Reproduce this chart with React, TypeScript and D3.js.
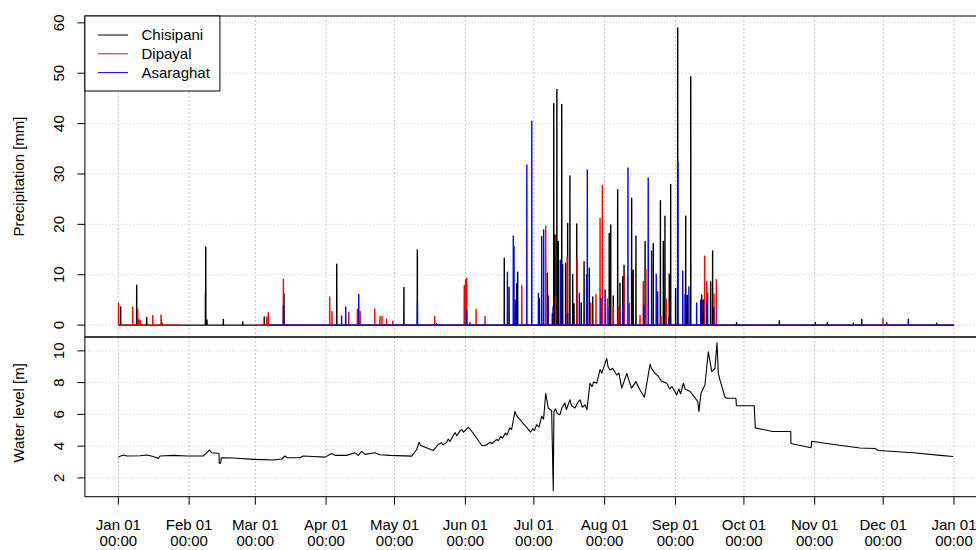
// App.tsx
import React, { useEffect, useRef } from "react";
import * as d3 from "d3";

// hourly precipitation peaks [date "MM-DD HH", mm] (zero in between)
const chisipani: [string, number][] = [
  ["01-02 01", 3.6], ["01-09 01", 7.9], ["01-13 10", 1.5], ["01-20 02", 0.5],
  ["02-08 04", 6.6], ["02-08 07", 15.5], ["02-08 20", 1.0], ["02-16 00", 1.1],
  ["02-24 12", 0.7], ["03-04 22", 1.6], ["03-13 14", 6.2], ["04-05 16", 12.1],
  ["05-05 02", 7.5], ["05-10 23", 14.9], ["06-18 01", 13.3], ["06-20 03", 7.5],
  ["06-23 12", 8.2], ["06-23 22", 10.5], ["07-03 10", 5.3], ["07-06 22", 10.3],
  ["07-09 02", 2.3], ["07-09 17", 44.0], ["07-10 07", 17.9], ["07-11 02", 46.8],
  ["07-11 17", 16.6], ["07-13 05", 43.8], ["07-13 15", 12.0], ["07-14 22", 12.3],
  ["07-15 19", 20.2], ["07-16 19", 29.6], ["07-18 00", 10.0], ["07-18 14", 4.2],
  ["07-19 19", 20.1], ["07-21 18", 4.4], ["07-23 00", 12.6], ["07-25 07", 11.3],
  ["07-26 19", 5.6], ["08-03 00", 18.2], ["08-03 16", 19.9], ["08-04 19", 5.8],
  ["08-06 17", 26.9], ["08-07 17", 8.3], ["08-08 22", 9.6], ["08-09 12", 11.9],
  ["08-12 20", 25.2], ["08-13 12", 10.9], ["08-14 17", 17.7], ["08-18 17", 16.6],
  ["08-22 07", 16.2], ["08-24 05", 6.6], ["08-25 10", 24.7], ["08-26 17", 16.6],
  ["08-27 10", 21.6], ["08-29 07", 10.1], ["08-29 22", 27.9], ["09-01 02", 7.3],
  ["09-02 00", 59.0], ["09-05 12", 21.6], ["09-06 05", 5.9], ["09-07 17", 49.3],
  ["09-12 12", 6.0], ["09-13 05", 5.0], ["09-15 02", 6.4], ["09-16 10", 8.6],
  ["09-17 07", 14.7], ["09-27 19", 0.5], ["10-16 12", 0.9], ["11-01 07", 0.5],
  ["11-06 12", 0.5], ["11-17 22", 0.4], ["11-21 14", 1.1], ["12-02 12", 0.5],
  ["12-24 10", 0.4],
];

const dipayal: [string, number][] = [
  ["01-01 02", 4.4], ["01-07 07", 3.6], ["01-09 12", 3.2], ["01-10 02", 1.0],
  ["01-10 14", 0.9], ["01-16 02", 1.9], ["01-19 17", 2.0], ["03-06 00", 1.6],
  ["03-06 17", 2.5], ["03-13 07", 9.1], ["04-02 14", 5.6], ["04-03 14", 2.7],
  ["04-10 22", 2.5], ["04-14 17", 3.1], ["04-15 22", 2.7], ["04-22 07", 3.2],
  ["04-24 14", 1.7], ["04-25 12", 1.7], ["04-27 12", 1.2], ["04-30 05", 0.8],
  ["05-18 14", 1.7], ["05-31 12", 7.8], ["06-01 02", 9.0], ["06-01 14", 9.3],
  ["06-05 17", 3.1], ["06-09 14", 1.7], ["06-25 17", 7.8], ["07-06 05", 19.7],
  ["07-10 12", 5.6], ["07-15 14", 13.5], ["07-19 22", 13.4], ["07-25 22", 4.4],
  ["07-28 05", 6.1], ["07-30 00", 21.2], ["07-31 00", 27.7], ["08-02 05", 5.2],
  ["08-04 19", 3.6], ["08-07 00", 3.6], ["08-09 12", 10.0], ["08-11 19", 4.3],
  ["08-16 12", 1.9], ["08-17 22", 8.6], ["08-19 02", 11.0], ["08-25 17", 1.7],
  ["08-28 00", 5.1], ["09-13 19", 13.7], ["09-14 17", 8.6], ["09-17 22", 6.2],
  ["09-18 22", 9.0], ["11-30 22", 1.3],
];

const asaraghat: [string, number][] = [
  ["03-13 07", 3.8], ["04-07 19", 1.8], ["04-09 14", 3.6], ["04-15 07", 6.1],
  ["05-11 00", 4.3], ["05-19 10", 0.3], ["06-01 14", 3.1], ["06-03 00", 0.5],
  ["06-19 10", 10.5], ["06-22 00", 17.7], ["06-22 07", 15.6], ["06-23 00", 5.0],
  ["06-27 22", 31.8], ["06-30 02", 40.5], ["07-03 00", 6.3], ["07-04 10", 17.6],
  ["07-05 07", 18.9], ["07-07 07", 5.8], ["07-09 10", 3.6], ["07-12 14", 12.9],
  ["07-15 19", 2.3], ["07-20 22", 6.3], ["07-24 02", 10.0], ["07-24 10", 30.8],
  ["07-30 10", 5.3], ["08-01 05", 7.0], ["08-03 00", 3.6], ["08-08 22", 4.0],
  ["08-11 05", 31.2], ["08-18 05", 4.0], ["08-20 02", 29.2], ["08-21 14", 14.7],
  ["08-23 14", 10.1], ["08-29 05", 1.5], ["09-02 02", 32.2], ["09-04 05", 10.7],
  ["09-05 05", 6.1], ["09-06 22", 7.6], ["09-10 07", 4.4], ["09-12 02", 5.0],
  ["09-14 17", 4.8], ["09-17 19", 3.5], ["12-12 00", 1.1],
];

// periods with records for each station
const chisipaniSpans: [string, string][] = [["01-01 00", "12-31 23"]];
const dipayalSpans: [string, string][] = [["01-01 00", "01-28 00"], ["03-01 00", "12-31 23"]];
const asaraghatSpans: [string, string][] = [["03-07 00", "12-31 23"]];

const stations = ["Chisipani", "Dipayal", "Asaraghat"];

// water level [date, m]
const waterLevel: [string, number][] = [
  ["01-01 00", 3.31], ["01-03 05", 3.44], ["01-04 17", 3.38], ["01-10 12", 3.40],
  ["01-13 10", 3.44], ["01-16 07", 3.35], ["01-18 12", 3.23], ["01-19 07", 3.38],
  ["01-25 02", 3.42], ["01-31 00", 3.38], ["02-07 05", 3.38], ["02-08 10", 3.54],
  ["02-09 22", 3.75], ["02-10 22", 3.58], ["02-14 02", 3.54], ["02-14 05", 2.92],
  ["02-14 19", 2.92], ["02-15 02", 3.27], ["02-20 10", 3.25], ["02-29 02", 3.17],
  ["03-08 22", 3.13], ["03-12 14", 3.19], ["03-14 00", 3.38], ["03-15 00", 3.27],
  ["03-20 14", 3.27], ["03-22 00", 3.38], ["03-26 10", 3.35], ["03-31 12", 3.31],
  ["04-03 12", 3.54], ["04-04 22", 3.42], ["04-10 00", 3.42], ["04-13 17", 3.58],
  ["04-15 02", 3.42], ["04-16 14", 3.67], ["04-18 00", 3.48], ["04-22 10", 3.58],
  ["04-24 14", 3.46], ["04-29 00", 3.42], ["05-08 12", 3.37], ["05-10 17", 3.79],
  ["05-11 17", 4.25], ["05-12 10", 4.04], ["05-18 00", 3.73], ["05-20 02", 4.10],
  ["05-21 12", 4.22], ["05-22 06", 4.08], ["05-23 19", 4.25], ["05-24 12", 4.45],
  ["05-25 06", 4.30], ["05-26 17", 4.67], ["05-27 12", 4.85], ["05-28 06", 4.65],
  ["05-29 17", 4.98], ["05-30 12", 5.05], ["05-31 06", 4.88], ["06-02 07", 5.19],
  ["06-03 19", 4.94], ["06-08 05", 4.04], ["06-09 14", 4.04], ["06-12 00", 4.25],
  ["06-12 12", 4.15], ["06-14 17", 4.42], ["06-15 12", 4.35], ["06-16 12", 4.62],
  ["06-17 06", 4.50], ["06-18 12", 4.82], ["06-19 06", 4.70], ["06-20 12", 5.15],
  ["06-21 06", 5.05], ["06-22 17", 6.19], ["06-23 12", 5.90], ["06-24 22", 5.67],
  ["06-29 14", 4.88], ["06-30 12", 5.10], ["07-01 06", 4.98], ["07-02 05", 5.35],
  ["07-03 06", 5.20], ["07-04 10", 5.88], ["07-05 06", 5.70], ["07-06 05", 7.33],
  ["07-07 07", 6.40], ["07-08 19", 6.23], ["07-09 12", 1.19], ["07-09 19", 6.19],
  ["07-10 12", 6.35], ["07-11 06", 6.05], ["07-12 10", 5.98], ["07-13 06", 6.40],
  ["07-14 14", 6.71], ["07-15 06", 6.30], ["07-16 19", 6.92], ["07-17 12", 6.55],
  ["07-19 00", 6.40], ["07-20 06", 6.75], ["07-21 05", 6.92], ["07-22 06", 6.45],
  ["07-23 10", 6.60], ["07-24 06", 6.30], ["07-25 14", 7.96], ["07-26 12", 7.75],
  ["07-27 06", 8.05], ["07-28 12", 7.96], ["07-30 00", 8.83], ["07-30 18", 8.60],
  ["07-31 19", 9.04], ["08-01 22", 9.52], ["08-02 12", 9.00], ["08-03 07", 8.79],
  ["08-04 12", 8.90], ["08-06 07", 8.48], ["08-07 06", 8.60], ["08-08 12", 7.65],
  ["08-10 17", 8.58], ["08-11 12", 8.20], ["08-12 19", 7.65], ["08-14 17", 8.06],
  ["08-16 06", 7.60], ["08-18 10", 7.08], ["08-20 22", 9.17], ["08-21 12", 8.90],
  ["08-23 02", 8.58], ["08-24 12", 8.40], ["08-25 18", 8.10], ["08-28 05", 7.96],
  ["08-29 12", 7.60], ["08-30 12", 7.75], ["09-01 14", 7.23], ["09-02 12", 7.60],
  ["09-03 06", 7.30], ["09-04 12", 7.96], ["09-05 06", 7.60], ["09-07 10", 7.44],
  ["09-09 06", 7.10], ["09-10 19", 6.81], ["09-11 07", 6.19], ["09-12 05", 7.33],
  ["09-13 22", 7.85], ["09-15 10", 9.94], ["09-16 22", 8.69], ["09-18 07", 8.90],
  ["09-19 05", 10.50], ["09-19 19", 8.58], ["09-20 12", 8.17], ["09-22 17", 7.08],
  ["09-23 10", 7.02], ["09-27 12", 7.02], ["09-27 17", 6.54], ["10-05 12", 6.54],
  ["10-06 00", 5.15], ["10-13 14", 4.92], ["10-21 12", 4.92], ["10-21 14", 4.17],
  ["10-30 10", 3.90], ["10-30 17", 4.31], ["11-06 07", 4.17], ["11-20 19", 3.88],
  ["11-27 10", 3.85], ["11-28 22", 3.73], ["12-14 05", 3.58], ["12-25 22", 3.42],
  ["12-31 17", 3.35],
];

const precipTicks = [0, 10, 20, 30, 40, 50, 60];
const levelTicks = [2, 4, 6, 8, 10];

const YEAR = "2016";
const FONT = "'Liberation Sans', Arial, Helvetica, sans-serif";
const parse = d3.utcParse("%Y-%m-%d %H");
const toDate = (s: string) => parse(`${YEAR}-${s}`) as Date;

const App: React.FC = () => {
  const ref = useRef<SVGSVGElement | null>(null);

  useEffect(() => {
    const width = 976;
    const height = 550;
    const left = 84.9;
    const right = 987.4; // plot runs past the window edge
    const top1 = 16;
    const mid = 337;
    const bottom2 = 496.7;
    const fs = 15;

    const svg = d3.select(ref.current);
    svg.selectAll("*").remove();
    svg.attr("width", width).attr("height", height);

    const start = toDate("01-01 00");
    const end = d3.utcYear.offset(start, 1);
    const pad = (+end - +start) * 0.04;
    const x = d3
      .scaleUtc()
      .domain([new Date(+start - pad), new Date(+end + pad)])
      .range([left, right]);

    const pMax = d3.max([...chisipani, ...dipayal, ...asaraghat], (d) => d[1]) as number;
    const yP = d3
      .scaleLinear()
      .domain([-0.04 * pMax, pMax * 1.04])
      .range([mid, top1]);

    const [wMin, wMax] = d3.extent(waterLevel, (d) => d[1]) as [number, number];
    const wPad = (wMax - wMin) * 0.04;
    const yW = d3
      .scaleLinear()
      .domain([wMin - wPad, wMax + wPad])
      .range([bottom2, mid]);

    const months = d3.utcMonth.range(start, d3.utcDay.offset(end, 1));

    // grid
    const grid = svg.append("g");
    [
      [top1, mid],
      [mid, bottom2],
    ].forEach(([a, b]) => {
      grid
        .selectAll(null)
        .data(months)
        .enter()
        .append("line")
        .attr("x1", (d) => x(d))
        .attr("x2", (d) => x(d))
        .attr("y1", a)
        .attr("y2", b)
        .attr("stroke", "#c4c4c4")
        .attr("stroke-dasharray", "2 2");
    });
    grid
      .selectAll(null)
      .data(precipTicks)
      .enter()
      .append("line")
      .attr("x1", left)
      .attr("x2", right)
      .attr("y1", (d) => yP(d))
      .attr("y2", (d) => yP(d))
      .attr("stroke", "#cfcfcf")
      .attr("stroke-dasharray", "1 2");
    grid
      .selectAll(null)
      .data(levelTicks)
      .enter()
      .append("line")
      .attr("x1", left)
      .attr("x2", right)
      .attr("y1", (d) => yW(d))
      .attr("y2", (d) => yW(d))
      .attr("stroke", "#cfcfcf")
      .attr("stroke-dasharray", "1 2");

    // precipitation series
    const hour = 3600 * 1000;
    const buildPoints = (spans: [string, string][], spikes: [string, number][]) => {
      const pts: ([Date, number] | null)[] = [];
      spans.forEach(([a, b]) => {
        const t0 = toDate(a);
        const t1 = toDate(b);
        pts.push([t0, 0]);
        spikes
          .map(([s, v]) => [toDate(s), v] as [Date, number])
          .filter(([t]) => t >= t0 && t <= t1)
          .sort((p, q) => +p[0] - +q[0])
          .forEach(([t, v]) => {
            pts.push([new Date(+t - hour), 0], [t, v], [new Date(+t + hour), 0]);
          });
        pts.push([t1, 0]);
        pts.push(null);
      });
      return pts;
    };

    const precipLine = d3
      .line<[Date, number] | null>()
      .defined((d) => d !== null)
      .x((d) => x((d as [Date, number])[0]))
      .y((d) => yP((d as [Date, number])[1]));

    const series = [
      { data: chisipani, spans: chisipaniSpans, color: "#000000" },
      { data: dipayal, spans: dipayalSpans, color: "#ff0000" },
      { data: asaraghat, spans: asaraghatSpans, color: "#0000ff" },
    ];

    series.forEach((s) => {
      svg
        .append("path")
        .attr("d", precipLine(buildPoints(s.spans, s.data)) as string)
        .attr("fill", "none")
        .attr("stroke", s.color)
        .attr("stroke-width", 1.4)
        .attr("stroke-linejoin", "round");
    });

    // water level
    const levelLine = d3
      .line<[string, number]>()
      .x((d) => x(toDate(d[0])))
      .y((d) => yW(d[1]));
    svg
      .append("path")
      .attr("d", levelLine(waterLevel) as string)
      .attr("fill", "none")
      .attr("stroke", "#000")
      .attr("stroke-width", 1.1)
      .attr("stroke-linejoin", "round");

    // frames
    svg
      .append("rect")
      .attr("x", left)
      .attr("y", top1)
      .attr("width", right - left)
      .attr("height", mid - top1)
      .attr("fill", "none")
      .attr("stroke", "#000");
    svg
      .append("rect")
      .attr("x", left)
      .attr("y", mid)
      .attr("width", right - left)
      .attr("height", bottom2 - mid)
      .attr("fill", "none")
      .attr("stroke", "#000");

    // y axes
    const yAxis = (ticks: number[], scale: d3.ScaleLinear<number, number>) => {
      const g = svg.append("g");
      g.selectAll(null)
        .data(ticks)
        .enter()
        .append("line")
        .attr("x1", left - 7.5)
        .attr("x2", left)
        .attr("y1", (d) => scale(d))
        .attr("y2", (d) => scale(d))
        .attr("stroke", "#000");
      g.selectAll(null)
        .data(ticks)
        .enter()
        .append("text")
        .attr("transform", (d) => `translate(63.5,${scale(d)}) rotate(-90)`)
        .attr("text-anchor", "middle")
        .style("font-family", FONT)
        .style("font-size", `${fs}px`)
        .text((d) => d);
    };
    yAxis(precipTicks, yP);
    yAxis(levelTicks, yW);

    svg
      .append("text")
      .attr("transform", `translate(24,${(top1 + mid) / 2}) rotate(-90)`)
      .attr("text-anchor", "middle")
      .style("font-family", FONT)
      .style("font-size", `${fs}px`)
      .text("Precipitation [mm]");
    svg
      .append("text")
      .attr("transform", `translate(24,${(mid + bottom2) / 2 - 4}) rotate(-90)`)
      .attr("text-anchor", "middle")
      .style("font-family", FONT)
      .style("font-size", `${fs}px`)
      .text("Water level [m]");

    // x axis
    const xg = svg.append("g");
    xg.selectAll(null)
      .data(months)
      .enter()
      .append("line")
      .attr("x1", (d) => x(d))
      .attr("x2", (d) => x(d))
      .attr("y1", bottom2)
      .attr("y2", bottom2 + 8)
      .attr("stroke", "#000");
    const fmtDay = d3.utcFormat("%b %d");
    const fmtTime = d3.utcFormat("%H:%M");
    const lbl = xg
      .selectAll(null)
      .data(months)
      .enter()
      .append("text")
      .attr("text-anchor", "middle")
      .style("font-family", FONT)
      .style("font-size", `${fs}px`);
    lbl
      .append("tspan")
      .attr("x", (d) => x(d))
      .attr("y", 530)
      .text((d) => fmtDay(d));
    lbl
      .append("tspan")
      .attr("x", (d) => x(d))
      .attr("y", 546)
      .text((d) => fmtTime(d));

    // legend
    const colors = ["#000000", "#ff0000", "#0000ff"];
    const lg = svg.append("g");
    lg.append("rect")
      .attr("x", left)
      .attr("y", top1)
      .attr("width", 135)
      .attr("height", 75)
      .attr("fill", "#fff")
      .attr("stroke", "#000");
    stations.forEach((name, i) => {
      const cy = 35 + i * 18.8;
      lg.append("line")
        .attr("x1", 98)
        .attr("x2", 128)
        .attr("y1", cy)
        .attr("y2", cy)
        .attr("stroke", colors[i]);
      lg.append("text")
        .attr("x", 141.5)
        .attr("y", cy + 5.4)
        .style("font-family", FONT)
        .style("font-size", `${fs}px`)
        .text(name);
    });
  }, []);

  return (
    <svg
      ref={ref}
      style={{ position: "absolute", left: 0, top: 0, background: "#fff" }}
    />
  );
};

export default App;
